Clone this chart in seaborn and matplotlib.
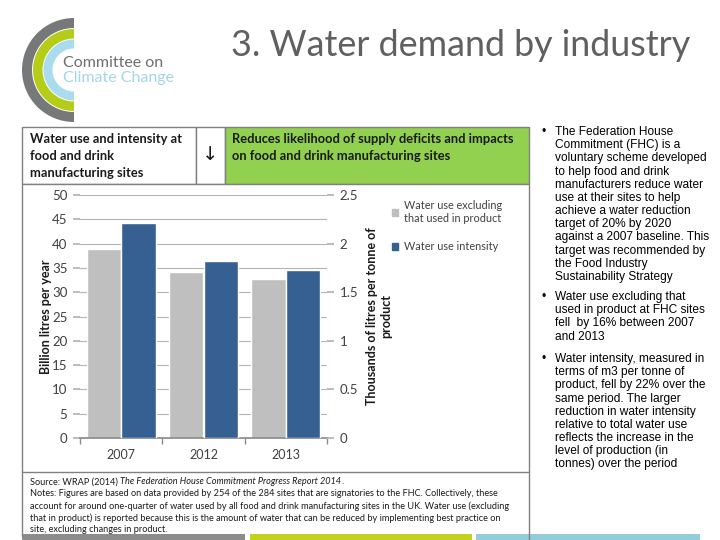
import pandas as pd
import matplotlib
matplotlib.use("Agg")
import matplotlib.pyplot as plt
import seaborn as sns
from matplotlib.patches import Rectangle, Wedge, Patch
from matplotlib.ticker import FixedLocator

# data
years = ["2007", "2012", "2013"]
water_use = [38.8, 34.1, 32.8]            # billion litres per year (left axis)
water_intensity = [2.215, 1.82, 1.73]     # thousand litres per tonne (right axis)
series_names = ["Water use excluding\nthat used in product", "Water use intensity"]
left_ticks = [0, 5, 10, 15, 20, 25, 30, 35, 40, 45, 50]
right_ticks = [0, 0.5, 1, 1.5, 2, 2.5]
right_labels = ["0", "0.5", "1", "1.5", "2", "2.5"]

bullets = [
    "The Federation House\nCommitment (FHC) is a\nvoluntary scheme developed\nto help food and drink\n"
    "manufacturers reduce water\nuse at their sites to help\nachieve a water reduction\ntarget of 20% by 2020\n"
    "against a 2007 baseline. This\ntarget was recommended by\nthe Food Industry\nSustainability Strategy",
    "Water use excluding that\nused in product at FHC sites\nfell  by 16% between 2007\nand 2013",
    "Water intensity, measured in\nterms of m3 per tonne of\nproduct, fell by 22% over the\nsame period. The larger\n"
    "reduction in water intensity\nrelative to total water use\nreflects the increase in the\nlevel of production (in\n"
    "tonnes) over the period",
]
notes = [
    "Notes: Figures are based on data provided by 254 of the 284 sites that are signatories to the FHC. Collectively, these",
    "account for around one-quarter of water used by all food and drink manufacturing sites in the UK. Water use (excluding",
    "that in product) is reported because this is the amount of water that can be reduced by implementing best practice on",
    "site, excluding changes in product.",
]

sns.set_theme(style="white")
plt.rcParams["font.family"] = ["Lato", "DejaVu Sans"]

GRAY_BAR = "#bfbfbf"
BLUE_BAR = "#376092"
TXT = "#404040"
EDGE = "#808080"

fig = plt.figure(figsize=(7.2, 5.4), dpi=100)

# background axes in pixel coordinates for the slide decoration
bg = fig.add_axes([0, 0, 1, 1])
bg.set_xlim(0, 720)
bg.set_ylim(540, 0)
bg.axis("off")

# logo arcs
for r, w, c in [(52, 10, "#76787a"), (41, 9.5, "#b5cc18"), (30.5, 9, "#a9dcee")]:
    bg.add_patch(Wedge((74, 70), r, 90, 270, width=w, color=c, lw=0))
bg.text(63, 63, "Committee on", fontsize=11.5, color="#6d6e70", va="center")
bg.text(63, 78, "Climate Change", fontsize=11.5, color="#a3d6e8", va="center")

# title
bg.text(461, 45, "3. Water demand by industry", fontsize=25.8, color="#606060",
        ha="center", va="center")

# header boxes
bg.add_patch(Rectangle((22, 127), 174, 57, fc="white", ec=EDGE, lw=1))
bg.add_patch(Rectangle((196, 127), 29, 57, fc="white", ec=EDGE, lw=1))
bg.add_patch(Rectangle((225, 127), 304, 57, fc="#92d050", ec=EDGE, lw=1))
bg.add_patch(Rectangle((22, 184), 507, 288, fc="white", ec=EDGE, lw=1))
bg.plot([22, 22], [472, 536], color=EDGE, lw=1)
bg.plot([529, 529], [472, 540], color=EDGE, lw=1)

bg.text(30, 133, "Water use and intensity at\nfood and drink\nmanufacturing sites", fontsize=9.3,
        fontweight="bold", color="#1a1a1a", va="top", linespacing=1.5)
bg.text(210, 155, "\u2193", fontsize=14, color="#1a1a1a", ha="center", va="center",
        family="DejaVu Sans")
bg.text(232, 133, "Reduces likelihood of supply deficits and impacts\non food and drink manufacturing sites",
        fontsize=9.3, fontweight="bold", color="#1a1a1a", va="top", linespacing=1.5)

# source and notes
NOTE_FS = 6.6
src = bg.text(30, 482, "Source: WRAP (2014) ", fontsize=NOTE_FS, color="#1a1a1a", va="center")
fig.canvas.draw()
x_end = src.get_window_extent().x1 * 720 / fig.bbox.width
ital = bg.text(x_end, 482, "The Federation House Commitment Progress Report 2014", fontsize=NOTE_FS,
               style="italic", color="#1a1a1a", va="center")
fig.canvas.draw()
x_end2 = ital.get_window_extent().x1 * 720 / fig.bbox.width
bg.text(x_end2, 482, ".", fontsize=NOTE_FS, color="#1a1a1a", va="center")
for i, line in enumerate(notes):
    bg.text(30, 494 + 12 * i, line, fontsize=NOTE_FS, color="#1a1a1a", va="center")

# bottom colour strips
bg.add_patch(Rectangle((22, 534), 223, 6, color="#8c8c8c", lw=0))
bg.add_patch(Rectangle((250, 534), 222, 6, color="#c4d21e", lw=0))
bg.add_patch(Rectangle((476, 534), 224, 6, color="#92cddc", lw=0))

# bullet text on the right
for y, txt in zip([126, 291, 353], bullets):
    bg.text(541, y, "\u2022", fontsize=8.6, color="black", va="top", family="Liberation Sans")
    bg.text(555, y, txt, fontsize=8.6, color="black", va="top", family="Liberation Sans",
            linespacing=1.13)

# chart
ax = fig.add_axes([80 / 720, (540 - 438) / 540, 247 / 720, 243 / 540])
ax.patch.set_alpha(0)
use_df = pd.DataFrame({"year": years, "series": series_names[0], "value": water_use})
int_df = pd.DataFrame({"year": years, "series": series_names[1], "value": water_intensity})
palette = {series_names[0]: GRAY_BAR, series_names[1]: BLUE_BAR}

sns.barplot(data=use_df, x="year", y="value", hue="series", hue_order=series_names,
            palette=palette, width=0.84, dodge=True, saturation=1, legend=False, ax=ax)
ax2 = ax.twinx()
sns.barplot(data=int_df, x="year", y="value", hue="series", hue_order=series_names,
            palette=palette, width=0.84, dodge=True, saturation=1, legend=False, ax=ax2)

ax.set_xlim(-0.5, 2.5)
ax.set_ylim(0, 50)
ax2.set_ylim(0, 2.5)
ax.set_yticks(left_ticks)
ax2.set_yticks(right_ticks)
ax2.set_yticklabels(right_labels)
ax.yaxis.grid(True, color="#b3b3b3", lw=0.8)
ax.set_axisbelow(True)
for s in list(ax.spines.values()) + list(ax2.spines.values()):
    s.set_visible(False)
ax.spines["bottom"].set_visible(True)
ax.spines["bottom"].set_color("#8c8c8c")

ax.xaxis.set_minor_locator(FixedLocator([-0.5, 0.5, 1.5, 2.5]))
ax.tick_params(axis="x", which="major", length=0, labelsize=9, labelcolor=TXT, pad=8)
ax.tick_params(axis="x", which="minor", length=4, color="#8c8c8c", bottom=True)
ax.tick_params(axis="y", length=5, color="#b3b3b3", labelsize=9.5, labelcolor=TXT, left=True, pad=4)
ax2.tick_params(axis="y", length=5, color="#b3b3b3", labelsize=9.5, labelcolor=TXT, right=True, pad=4)

ax.set_xlabel("")
ax.set_ylabel("Billion litres per year", fontsize=9, fontweight="bold", color="#1a1a1a", labelpad=0)
ax2.set_ylabel("Thousands of litres per tonne of\nproduct", fontsize=9, fontweight="bold",
               color="#1a1a1a", labelpad=6)

handles = [Patch(color=palette[n], label=n) for n in series_names]
bg.legend(handles=handles, loc="upper left", bbox_to_anchor=(392 / 720, 1 - 200 / 540),
          bbox_transform=fig.transFigure, frameon=False, fontsize=7.8, labelcolor=TXT,
          handlelength=0.6, handleheight=0.6, handletextpad=0.5, labelspacing=1.6,
          borderaxespad=0, borderpad=0)

fig.savefig("out.png", dpi=100)
